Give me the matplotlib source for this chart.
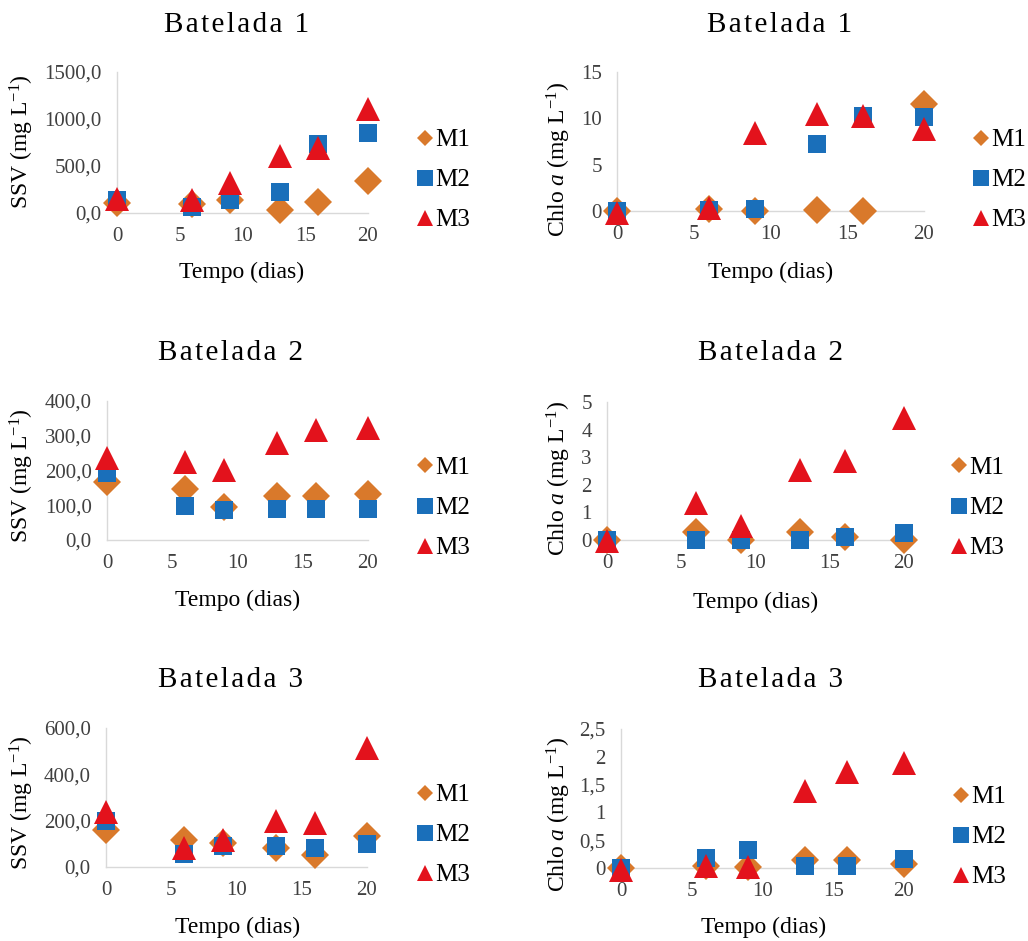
import matplotlib
matplotlib.use('Agg')
import matplotlib.pyplot as plt
from matplotlib.ticker import FuncFormatter
from matplotlib.lines import Line2D

plt.rcParams['font.family'] = ['Liberation Serif', 'DejaVu Serif']
plt.rcParams['mathtext.fontset'] = 'custom'
plt.rcParams['mathtext.rm'] = 'Liberation Serif'
plt.rcParams['mathtext.it'] = 'Liberation Serif:italic'

# sampling days
dias = [0, 6, 9, 13, 16, 20]

# SSV (mg/L), bateladas 1-3
ssv_b1_m1 = [110, 100, 140, 30, 115, 345]
ssv_b1_m2 = [135, 60, 135, 220, 735, 850]
ssv_b1_m3 = [145, 135, 320, 605, 690, 1110]

ssv_b2_m1 = [166, 146, 96, 128, 128, 131]
ssv_b2_m2 = [192, 99, 86, 88, 88, 88]
ssv_b2_m3 = [235, 225, 201, 278, 316, 321]

ssv_b3_m1 = [161, 118, 104, 82, 53, 132]
ssv_b3_m2 = [197, 56, 92, 92, 82, 101]
ssv_b3_m3 = [236, 82, 118, 197, 190, 514]

# Chlorophyll a (mg/L), bateladas 1-3
chl_b1_m1 = [0.0, 0.2, 0.0, 0.15, 0.0, 11.6]
chl_b1_m2 = [0.0, 0.15, 0.25, 7.2, 10.3, 10.1]
chl_b1_m3 = [-0.2, 0.35, 8.4, 10.5, 10.2, 8.9]

chl_b2_m1 = [0.0, 0.3, 0.0, 0.3, 0.12, 0.0]
chl_b2_m2 = [0.0, 0.0, 0.0, 0.0, 0.1, 0.24]
chl_b2_m3 = [-0.05, 1.33, 0.5, 2.55, 2.85, 4.42]

chl_b3_m1 = [0.0, 0.04, 0.01, 0.15, 0.15, 0.08]
chl_b3_m2 = [0.0, 0.18, 0.33, 0.03, 0.03, 0.16]
chl_b3_m3 = [-0.03, 0.03, 0.02, 1.38, 1.72, 1.89]

labels = ['M1', 'M2', 'M3']
titles = ['Batelada 1', 'Batelada 2', 'Batelada 3']

W, H = 1028, 941
fig = plt.figure(figsize=(W/100, H/100), dpi=100)

def px_axes(l, r, t, b):
  return fig.add_axes([l/W, 1-b/H, (r-l)/W, (b-t)/H])

def fmt_ssv(v, pos):
  return ('%.1f' % v).replace('.', ',')

def fmt_chl(v, pos):
  if abs(v - round(v)) < 1e-9:
    return '%d' % round(v)
  return ('%.1f' % v).replace('.', ',')

def spaced(s):
  # excel title has wide letter spacing
  return '\u200a'.join(s)

colors = ['#D9792B', '#1A6FBA', '#E3121C']
mk = ['D', 's', '^']
msz = [14, 13, 17]
leg_sz = [8, 12, 11]

panels = [
  # (series, ymax, ystep, formatter, ylabel, axes px box, title pos, xlabel pos, ylabel pos, legend pos)
  ([ssv_b1_m1, ssv_b1_m2, ssv_b1_m3], 1500, 500, fmt_ssv, 'SSV (mg L$^{-1}$)',
   (117, 368, 72, 213), (237, 25), (242, 272), (22, 142), (406, 180)),
  ([chl_b1_m1, chl_b1_m2, chl_b1_m3], 15, 5, fmt_chl, r'Chlo $\mathit{a}$ (mg L$^{-1}$)',
   (617, 924, 72, 211), (780, 25), (771, 272), (559, 159), (962, 180)),
  ([ssv_b2_m1, ssv_b2_m2, ssv_b2_m3], 400, 100, fmt_ssv, 'SSV (mg L$^{-1}$)',
   (107, 368, 401, 540), (230, 353), (238, 600), (22, 476), (406, 508)),
  ([chl_b2_m1, chl_b2_m2, chl_b2_m3], 5, 1, fmt_chl, r'Chlo $\mathit{a}$ (mg L$^{-1}$)',
   (607, 904, 402, 540), (771, 353), (756, 602), (559, 478), (940, 508)),
  ([ssv_b3_m1, ssv_b3_m2, ssv_b3_m3], 600, 200, fmt_ssv, 'SSV (mg L$^{-1}$)',
   (106, 367, 728, 867), (230, 680), (238, 927), (22, 803), (406, 835)),
  ([chl_b3_m1, chl_b3_m2, chl_b3_m3], 2.5, 0.5, fmt_chl, r'Chlo $\mathit{a}$ (mg L$^{-1}$)',
   (621, 904, 729, 868), (771, 680), (764, 927), (559, 814), (942, 837)),
]

for i, (series, ymax, ystep, fmt, ylab, box, tpos, xlpos, ylpos, lpos) in enumerate(panels):
  ax = px_axes(*box)
  for j, ys in enumerate(series):
    ax.plot(dias, ys, linestyle='none', marker=mk[j], color=colors[j],
            markersize=msz[j], markeredgewidth=0, clip_on=False, zorder=3+j)
  ax.set_xlim(0, 20)
  ax.set_ylim(0, ymax)
  ax.set_xticks([0, 5, 10, 15, 20])
  nt = int(round(ymax/ystep))
  ax.set_yticks([k*ystep for k in range(nt+1)])
  ax.yaxis.set_major_formatter(FuncFormatter(fmt))
  ax.tick_params(length=0, labelsize=15, colors='#404040')
  ax.tick_params(axis='y', pad=11)
  ax.tick_params(axis='x', pad=10)
  for s in ['top', 'right']:
    ax.spines[s].set_visible(False)
  for s in ['left', 'bottom']:
    ax.spines[s].set_color('#d9d9d9')
    ax.spines[s].set_linewidth(1.0)
  ax.patch.set_alpha(0)

  fig.text(tpos[0]/W, 1-tpos[1]/H, spaced(titles[i//2]), ha='center', va='center', fontsize=21)
  fig.text(xlpos[0]/W, 1-xlpos[1]/H, 'Tempo (dias)', ha='center', va='center', fontsize=17)
  fig.text(ylpos[0]/W, 1-ylpos[1]/H, ylab, ha='center', va='center', fontsize=17, rotation=90)

  handles = [Line2D([], [], linestyle='none', marker=mk[j], color=colors[j],
                    markersize=leg_sz[j], markeredgewidth=0, label=labels[j])
             for j in range(3)]
  ax.legend(handles=handles, loc='center left', bbox_to_anchor=(lpos[0]/W, 1-lpos[1]/H),
            bbox_transform=fig.transFigure, frameon=False, fontsize=18,
            handlelength=0.55, handletextpad=0.1, labelspacing=0.7, borderpad=0)

fig.savefig('out.png', dpi=100)
